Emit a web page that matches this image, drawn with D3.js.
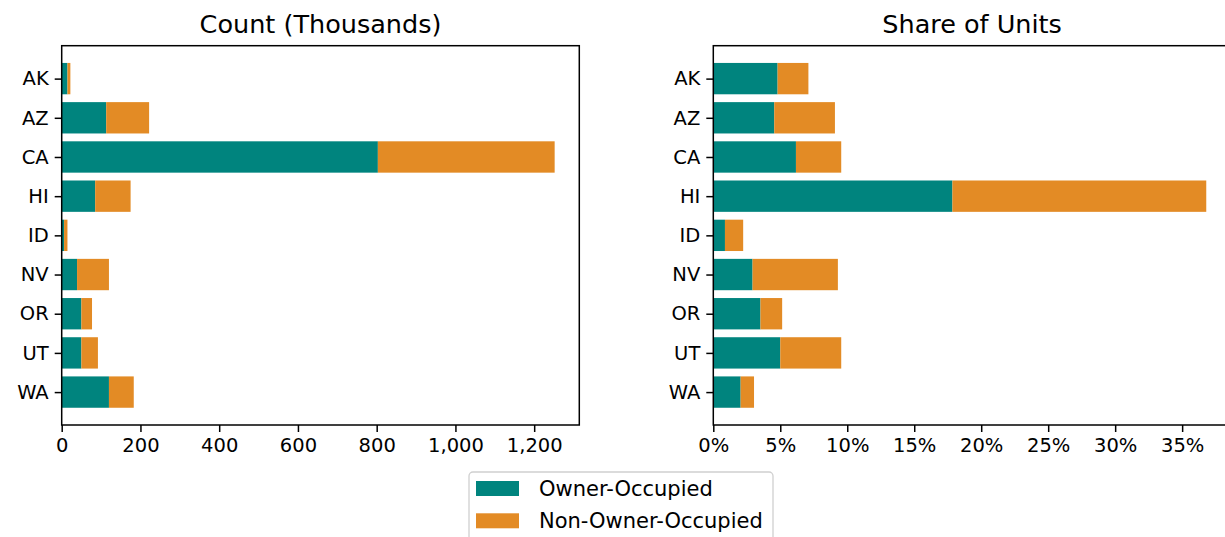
<!DOCTYPE html>
<html>
<head>
<meta charset="utf-8">
<script src="https://cdn.jsdelivr.net/npm/d3@7"></script>
<style>
  body { margin: 0; background: #fff; }
  svg { display: block; font-family: "DejaVu Sans", sans-serif; }
  .tick text { fill: #000; }
</style>
</head>
<body>
<div id="chart"></div>
<script>
// data
var states = ["AK", "AZ", "CA", "HI", "ID", "NV", "OR", "UT", "WA"];
var countOwner = [14.6, 113, 803, 85, 6, 39, 50, 50, 120];
var countNonOwner = [7.4, 109, 449, 90, 8.6, 81, 27, 42, 63];
var shareOwner = [4.8, 4.55, 6.17, 17.85, 0.87, 2.93, 3.52, 5.0, 2.04];
var shareNonOwner = [2.3, 4.53, 3.38, 18.95, 1.36, 6.37, 1.62, 4.55, 1.0];
var countTicks = [0, 200, 400, 600, 800, 1000, 1200];
var shareTicks = [0, 5, 10, 15, 20, 25, 30, 35];
var seriesNames = ["Owner-Occupied", "Non-Owner-Occupied"];
var colors = ["#00847e", "#e38b25"];

var W = 1225, H = 537;
var plotTop = 45.7, plotBottom = 425;
var panels = [
  { title: "Count (Thousands)", left: 61.7, width: 517.6, a: countOwner, b: countNonOwner,
    ticks: countTicks, fmt: d3.format(",") },
  { title: "Share of Units", left: 713.3, width: 517.6, a: shareOwner, b: shareNonOwner,
    ticks: shareTicks, fmt: function(d) { return d + "%"; } }
];

var svg = d3.select("#chart").append("svg")
    .attr("width", W)
    .attr("height", H);

// matplotlib style margins on the category axis
var y = d3.scaleLinear()
    .domain([-0.84, states.length - 1 + 0.84])
    .range([plotTop, plotBottom]);
var barH = y(0.8) - y(0);

panels.forEach(function(p) {
  var totals = p.a.map(function(v, i) { return v + p.b[i]; });
  var x = d3.scaleLinear()
      .domain([0, d3.max(totals) * 1.05])
      .range([0, p.width]);

  var g = svg.append("g")
      .attr("transform", "translate(" + p.left + ",0)");

  g.selectAll("rect.own")
      .data(p.a)
    .enter().append("rect")
      .attr("class", "own")
      .attr("x", 0)
      .attr("y", function(d, i) { return y(i) - barH / 2; })
      .attr("width", function(d) { return x(d); })
      .attr("height", barH)
      .attr("fill", colors[0]);

  g.selectAll("rect.non")
      .data(p.b)
    .enter().append("rect")
      .attr("class", "non")
      .attr("x", function(d, i) { return x(p.a[i]); })
      .attr("y", function(d, i) { return y(i) - barH / 2; })
      .attr("width", function(d) { return x(d); })
      .attr("height", barH)
      .attr("fill", colors[1]);

  // frame
  g.append("rect")
      .attr("x", 0)
      .attr("y", plotTop)
      .attr("width", p.width)
      .attr("height", plotBottom - plotTop)
      .attr("fill", "none")
      .attr("stroke", "#000")
      .attr("stroke-width", 1.5);

  var xAxis = d3.axisBottom(x)
      .tickValues(p.ticks)
      .tickFormat(p.fmt)
      .tickSize(7)
      .tickPadding(6);
  var xg = g.append("g")
      .attr("transform", "translate(0," + plotBottom + ")")
      .call(xAxis);
  xg.select(".domain").remove();

  var yAxis = d3.axisLeft(y)
      .tickValues(d3.range(states.length))
      .tickFormat(function(i) { return states[i]; })
      .tickSize(7)
      .tickPadding(6);
  var yg = g.append("g").call(yAxis);
  yg.select(".domain").remove();

  [xg, yg].forEach(function(a) {
    a.selectAll(".tick line").attr("stroke", "#000").attr("stroke-width", 1.5);
    a.selectAll(".tick text").attr("font-size", 19.5).attr("font-family", "DejaVu Sans");
  });

  g.append("text")
      .attr("x", p.width / 2)
      .attr("y", 33)
      .attr("text-anchor", "middle")
      .attr("font-size", 25.5)
      .text(p.title);
});

// legend
var lg = svg.append("g").attr("transform", "translate(469,472)");
lg.append("rect")
    .attr("width", 304)
    .attr("height", 90)
    .attr("rx", 4)
    .attr("fill", "#fff")
    .attr("stroke", "#d0d0d0")
    .attr("stroke-width", 1.3);

var items = lg.selectAll("g.item")
    .data(seriesNames)
  .enter().append("g")
    .attr("class", "item")
    .attr("transform", function(d, i) { return "translate(7," + (9 + i * 32.3) + ")"; });

items.append("rect")
    .attr("width", 43)
    .attr("height", 15)
    .attr("fill", function(d, i) { return colors[i]; });

items.append("text")
    .attr("x", 63)
    .attr("y", 15)
    .attr("font-size", 21)
    .text(function(d) { return d; });
</script>
</body>
</html>
